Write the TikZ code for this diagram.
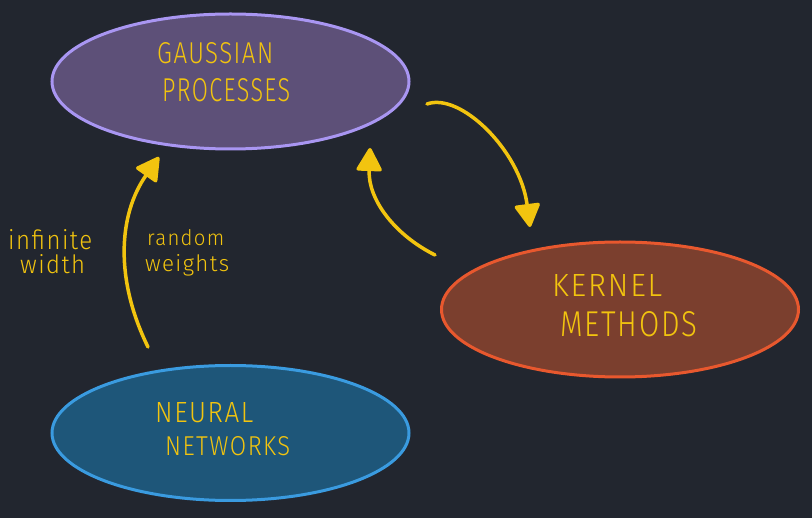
\documentclass[tikz,border=0pt]{standalone}
\usepackage{fontspec}
\usetikzlibrary{shapes.geometric,arrows.meta}
\newfontfamily\handfont{Fira Sans Light}[LetterSpace=6]
\definecolor{bg}{HTML}{22262F}
\definecolor{ink}{HTML}{F2C40F}
\definecolor{gpfill}{HTML}{5D5078}
\definecolor{gpline}{HTML}{A996F2}
\definecolor{kmfill}{HTML}{7B3F2E}
\definecolor{kmline}{HTML}{E8582E}
\definecolor{nnfill}{HTML}{1E5679}
\definecolor{nnline}{HTML}{3A9BE0}
\newcommand\fitword[3]{\resizebox{#1pt}{#2pt}{#3}}
\tikzset{
  blob/.style={ellipse, line width=3pt, inner sep=0pt, minimum width=357pt, minimum height=135pt},
  captext/.style={text=ink, font=\handfont\fontsize{20}{20}\selectfont, inner sep=0pt, anchor=base west},
  smalltext/.style={text=ink, font=\handfont\fontsize{17}{17}\selectfont, inner sep=0pt, anchor=base west},
  flow/.style={draw=ink, line width=3.5pt, line cap=round, -{Triangle[length=25pt,width=27pt,round]}},
}
\begin{document}
\begin{tikzpicture}[x=1pt,y=-1pt]
\useasboundingbox (0,0) rectangle (812,518);
\fill[bg] (0,0) rectangle (812,518);
\node[blob, fill=gpfill, draw=gpline] (gp) at (230.5,81.5) {};
\node[blob, fill=kmfill, draw=kmline] (km) at (620,309.5) {};
\node[blob, fill=nnfill, draw=nnline] (nn) at (230.5,433) {};
\node[captext] (gp1) at (157,64) {\fitword{116}{21}{GAUSSIAN}};
\node[captext] (gp2) at (162,102) {\fitword{128}{23}{PROCESSES}};
\node[captext] (km1) at (552,297) {\fitword{110}{22}{KERNEL}};
\node[captext] (km2) at (560,337) {\fitword{137}{25}{METHODS}};
\node[captext] (nn1) at (155,423) {\fitword{98}{20}{NEURAL}};
\node[captext] (nn2) at (165,456) {\fitword{125}{19}{NETWORKS}};
\node[smalltext] (l1) at (8,250) {\fitword{84}{20}{infinite}};
\node[smalltext] (l2) at (20,274) {\fitword{65}{19}{width}};
\node[smalltext] (l3) at (147,246) {\fitword{77}{16}{random}};
\node[smalltext] (l4) at (145,272) {\fitword{84}{17}{weights}};
\coordinate (a1s) at (148,347);
\coordinate (a1e) at (159,157);
\coordinate (a2s) at (427,104);
\coordinate (a2e) at (530,227);
\coordinate (a3s) at (435,255);
\coordinate (a3e) at (370,148);
\draw[flow] (a1s) .. controls (115,280) and (118,215) .. (a1e);
\draw[flow] (a2s) .. controls (460,92) and (520,150) .. (a2e);
\draw[flow] (a3s) .. controls (395,235) and (368,200) .. (a3e);
\end{tikzpicture}
\end{document}
